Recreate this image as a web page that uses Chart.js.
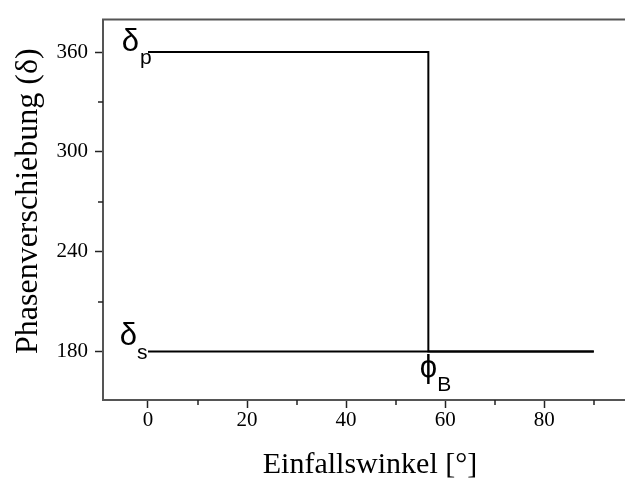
<!DOCTYPE html>
<html>
<head>
<meta charset="utf-8">
<script src="https://cdn.jsdelivr.net/npm/chart.js@4/dist/chart.umd.min.js"></script>
<style>
  html, body { margin: 0; padding: 0; background: #fff; }
</style>
</head>
<body>
<canvas id="c" width="625" height="479"></canvas>
<script>
// Phasenverschiebung bei Reflexion, p- und s-Polarisation
const brewster = 56.6;
const pAngles = [0, brewster, brewster, 90];
const pShift = [360, 360, 180, 180];
const sAngles = [0, 90];
const sShift = [180, 180];

const xTicks = [0, 20, 40, 60, 80];
const xMinor = [10, 30, 50, 70, 90];
const yTicks = [180, 240, 300, 360];
const yMinor = [210, 270, 330];

const xTitle = "Einfallswinkel [°]";
const yTitle = "Phasenverschiebung (δ)";

const serif = "'Liberation Serif', 'Times New Roman', serif";
const sans = "'Liberation Sans', Arial, sans-serif";

function toPoints(xs, ys) {
  return xs.map((x, i) => ({ x: x, y: ys[i] }));
}

const extras = {
  id: "extras",
  afterDraw(chart) {
    const ctx = chart.ctx;
    const { left, right, top, bottom } = chart.chartArea;
    const xs = chart.scales.x;
    const ys = chart.scales.y;
    ctx.save();

    // upper frame line
    ctx.strokeStyle = "#555";
    ctx.lineWidth = 2;
    ctx.beginPath();
    ctx.moveTo(left - 1, top);
    ctx.lineTo(right, top);
    ctx.stroke();

    // minor ticks
    ctx.strokeStyle = "#222";
    ctx.lineWidth = 1.5;
    xMinor.forEach((v) => {
      const px = Math.round(xs.getPixelForValue(v));
      ctx.beginPath();
      ctx.moveTo(px, bottom);
      ctx.lineTo(px, bottom + 5);
      ctx.stroke();
    });
    yMinor.forEach((v) => {
      const py = Math.round(ys.getPixelForValue(v));
      ctx.beginPath();
      ctx.moveTo(left, py);
      ctx.lineTo(left - 5, py);
      ctx.stroke();
    });

    // axis titles
    ctx.fillStyle = "#000";
    ctx.font = "30px " + serif;
    ctx.textAlign = "center";
    ctx.textBaseline = "alphabetic";
    ctx.fillText(xTitle, 370, 473);

    ctx.save();
    ctx.translate(37, 354);
    ctx.rotate(-Math.PI / 2);
    ctx.font = "32px " + serif;
    ctx.textAlign = "left";
    ctx.fillText(yTitle, 0, 0);
    ctx.restore();

    // curve labels
    const x0 = xs.getPixelForValue(0);
    const xb = xs.getPixelForValue(brewster);
    const y360 = ys.getPixelForValue(360);
    const y180 = ys.getPixelForValue(180);

    ctx.font = "31px " + sans;
    ctx.textAlign = "right";
    ctx.fillText("δ", x0 - 9, y360 - 1);
    ctx.fillText("δ", x0 - 11, y180 - 7);
    ctx.textAlign = "center";
    ctx.fillText("ϕ", xb, y180 + 25);

    ctx.font = "21px " + sans;
    ctx.textAlign = "left";
    ctx.fillText("p", x0 - 8, y360 + 12);
    ctx.fillText("s", x0 - 11, y180 + 7.5);
    ctx.fillText("B", xb + 9, y180 + 39.5);

    ctx.restore();
  },
};

const lineStyle = {
  showLine: true,
  borderColor: "#000",
  borderWidth: 2,
  pointRadius: 0,
  tension: 0,
  fill: false,
};

new Chart(document.getElementById("c"), {
  type: "scatter",
  data: {
    datasets: [
      { label: "p", data: toPoints(pAngles, pShift), ...lineStyle },
      { label: "s", data: toPoints(sAngles, sShift), ...lineStyle },
    ],
  },
  options: {
    responsive: false,
    animation: false,
    devicePixelRatio: 1,
    layout: { padding: { top: 13, right: 0, bottom: 0, left: 0 } },
    plugins: {
      legend: { display: false },
      tooltip: { enabled: false },
    },
    scales: {
      x: {
        type: "linear",
        min: -9.08,
        max: 96.3,
        afterBuildTicks(scale) {
          scale.ticks = xTicks.map((v) => ({ value: v }));
        },
        afterFit(scale) {
          scale.height = 79;
        },
        grid: {
          drawOnChartArea: false,
          tickLength: 8,
          tickWidth: 1.5,
          tickColor: "#222",
        },
        border: { display: true, color: "#555", width: 2 },
        ticks: {
          padding: 0,
          color: "#000",
          font: { family: serif, size: 21 },
        },
      },
      y: {
        type: "linear",
        min: 150.9,
        max: 379.5,
        afterBuildTicks(scale) {
          scale.ticks = yTicks.map((v) => ({ value: v }));
        },
        afterFit(scale) {
          scale.width = 103;
        },
        grid: {
          drawOnChartArea: false,
          tickLength: 8,
          tickWidth: 1.5,
          tickColor: "#222",
        },
        border: { display: true, color: "#555", width: 2 },
        ticks: {
          padding: 7,
          color: "#000",
          font: { family: serif, size: 21 },
        },
      },
    },
  },
  plugins: [extras],
});
</script>
</body>
</html>
